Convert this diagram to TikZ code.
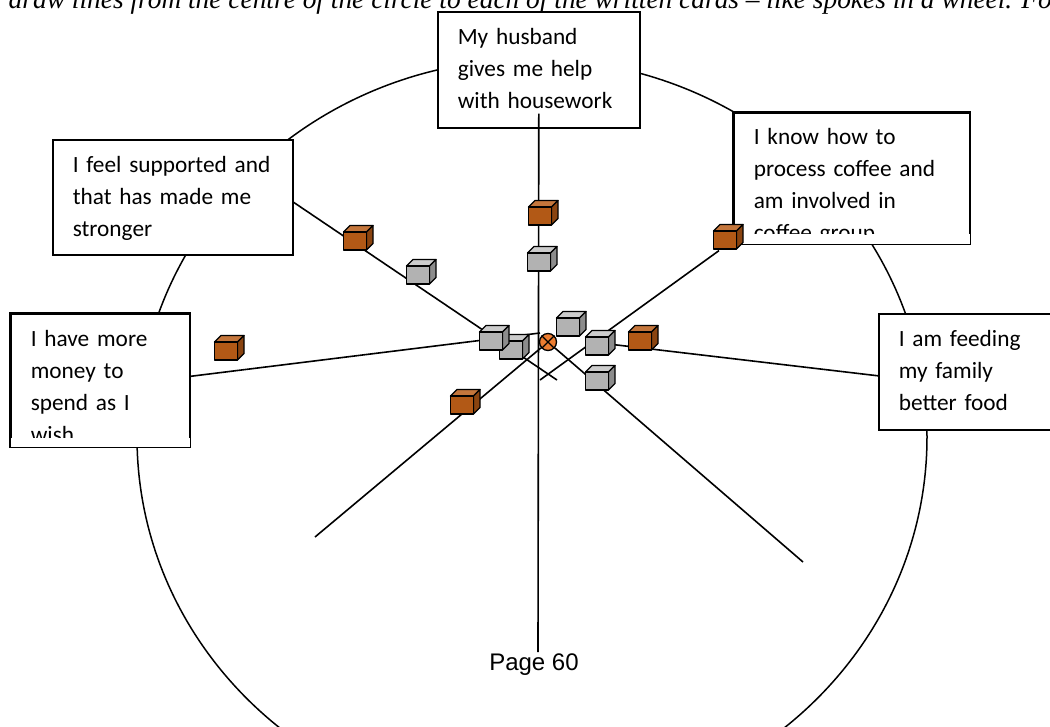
\documentclass[tikz,border=0pt]{standalone}
\usepackage{fontspec}
\setmainfont{Carlito}
\newfontfamily\pagefont{Liberation Sans}
\newfontfamily\introserif{Liberation Serif}
\usetikzlibrary{calc}

\definecolor{cubeorange}{RGB}{178,89,22}
\definecolor{cubeorangetop}{RGB}{196,118,60}
\definecolor{cubeorangeside}{RGB}{138,68,16}
\definecolor{cubegray}{RGB}{178,178,178}
\definecolor{cubegraytop}{RGB}{204,204,204}
\definecolor{cubegrayside}{RGB}{140,140,140}
\definecolor{hubfill}{RGB}{237,125,49}

\newcommand{\cardfont}{\fontsize{23.3}{32}\selectfont}
\newcommand{\introfont}{\introserif\fontsize{27.4}{32}\selectfont\itshape}

\begin{document}
\begin{tikzpicture}[
    x=1pt, y=-1pt,
    card/.style={draw, fill=white, line width=1.6pt, anchor=north west, align=left, inner xsep=20pt, inner ysep=0pt, text height=33pt, font=\cardfont},
    spoke/.style={line width=1.6pt},
    rim/.style={line width=1.5pt},
    hubmark/.style={circle, draw, fill=hubfill, line width=1.3pt, minimum size=17pt, inner sep=0pt},
    cubeline/.style={draw=black, line width=1.3pt, line join=round},
    pics/cube/.style={code={
        \filldraw[fill=cube#1top, cubeline] (-11.5,-9) -- ++(6.5,-6.5) -- ++(23,0) -- ++(-6.5,6.5) -- cycle;
        \filldraw[fill=cube#1side, cubeline] (11.5,-9) -- ++(6.5,-6.5) -- ++(0,18) -- ++(-6.5,6.5) -- cycle;
        \filldraw[fill=cube#1, cubeline] (-11.5,-9) rectangle (11.5,9);
    }}
]
\useasboundingbox (0,0) rectangle (1050,726);
\clip (0,0) rectangle (1050,726);

\node[anchor=base west, font=\introfont, inner sep=0pt] (intro) at (-12,8.5) {d draw lines from the centre of the circle to each of the written cards \textendash{} like spokes in a wheel. Fo};

\draw[rim] (532,437) ellipse [x radius=395, y radius=378];

% cards
\node[card, text width=162pt, text depth=83pt] (husband) at (437,11) {My husband\\gives me help\\with housework};
\node[card, text width=200pt, text depth=82pt] (support) at (52,139) {I feel supported and\\that has made me\\stronger};
\node[card, text width=200pt, text depth=83pt] (food) at (878,313) {I am feeding\\my family\\better food};

\begin{scope}
\clip (0,300) rectangle (200,437);
\node[card, text width=139pt, text depth=100pt] (money) at (10,313) {I have more\\money to\\spend as I\\wish};
\end{scope}
\fill[white] (money.south west) rectangle ([yshift=10pt]money.south east);
\draw[line width=1.6pt] (money.north west) rectangle (money.south east);

\begin{scope}
\clip (720,100) rectangle (980,233);
\node[card, text width=196pt, text height=32pt, text depth=99pt] (coffee) at (733,112) {I know how to\\process coffee and\\am involved in\\coffee group};
\end{scope}
\fill[white] (coffee.south west) rectangle ([yshift=10pt]coffee.south east);
\draw[line width=1.6pt] (coffee.north west) rectangle (coffee.south east);

% hub and spokes
\node[hubmark] (hub) at (548,342) {};
\draw[line width=1.3pt] (hub.north west) -- (hub.south east) (hub.north east) -- (hub.south west);

\coordinate (foot) at (538,652);
\coordinate (tip2) at (557,380);
\coordinate (tip3) at (540,333);
\coordinate (tip4) at (540,380);
\coordinate (tip5) at (600,343);
\coordinate (tail6) at (315,537);
\coordinate (tail7) at (803,562);

\draw[spoke] ([yshift=15pt]husband.south) -- (foot);
\draw[spoke] ([yshift=-5pt]support.east) -- (tip2);
\draw[spoke] ([yshift=4pt]money.east) -- (tip3);
\draw[spoke] ([xshift=-14pt,yshift=-6pt]coffee.south west) -- (tip4);
\draw[spoke] ([yshift=-4pt]food.west) -- (tip5);
\draw[spoke] (tail6) -- (hub);
\draw[spoke] (tail7) -- (hub);

% cubes
\pic at (355,241) {cube=orange};
\pic at (418,275) {cube=gray};
\pic at (540,216) {cube=orange};
\pic at (539,262) {cube=gray};
\pic at (226,351) {cube=orange};
\pic at (725,240) {cube=orange};
\pic at (640,341) {cube=orange};
\pic at (462,405) {cube=orange};
\pic at (511,350) {cube=gray};
\pic at (491,341) {cube=gray};
\pic at (568,327) {cube=gray};
\pic at (597,346) {cube=gray};
\pic at (597,381) {cube=gray};

\node[anchor=base, font=\pagefont\fontsize{24}{28}\selectfont] (page) at (534,670) {Page 60};

\end{tikzpicture}
\end{document}
